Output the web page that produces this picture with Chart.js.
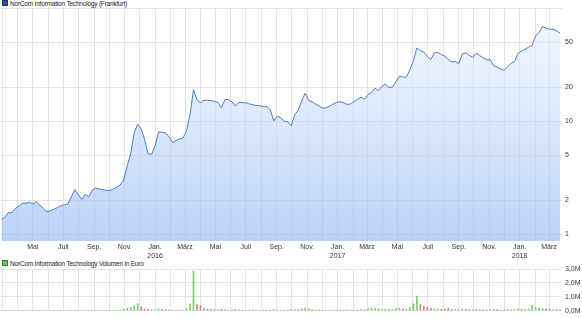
<!DOCTYPE html>
<html><head><meta charset="utf-8">
<script src="https://cdn.jsdelivr.net/npm/chart.js@4/dist/chart.umd.min.js"></script>
<style>
html,body{margin:0;padding:0;background:#fff;width:582px;height:318px;overflow:hidden;font-family:"Liberation Sans",Arial,sans-serif;}
#c1{position:absolute;left:0;top:0;}
#c2{position:absolute;left:0;top:258px;}
.lg{position:absolute;left:2px;font-size:6.5px;letter-spacing:-0.2px;color:#222;white-space:nowrap;line-height:8px;}
.lg i{display:inline-block;width:4px;height:4px;margin-right:2px;border:1px solid #333;vertical-align:0px;}
</style></head><body>
<div class="lg" style="top:0px"><i style="background:#2f5597;border-color:#1f3a6b"></i>NorCom Information Technology (Frankfurt)</div>
<div class="lg" style="top:260px"><i style="background:#6cc25e;border-color:#3a7a30"></i>NorCom Information Technology Volumen in Euro</div>
<canvas id="c1" width="582" height="258"></canvas>
<canvas id="c2" width="582" height="60"></canvas>
<script>
const dates = [
"2015-02-27","2015-03-06","2015-03-13","2015-03-20","2015-03-27","2015-04-03","2015-04-10","2015-04-17","2015-04-24","2015-05-01",
"2015-05-08","2015-05-15","2015-05-22","2015-05-29","2015-06-05","2015-06-12","2015-06-19","2015-06-26","2015-07-03","2015-07-10",
"2015-07-17","2015-07-24","2015-07-31","2015-08-07","2015-08-14","2015-08-21","2015-08-28","2015-09-04","2015-09-11","2015-09-18",
"2015-09-25","2015-10-02","2015-10-09","2015-10-16","2015-10-23","2015-10-30","2015-11-06","2015-11-13","2015-11-20","2015-11-27",
"2015-12-04","2015-12-11","2015-12-18","2015-12-25","2016-01-01","2016-01-08","2016-01-15","2016-01-22","2016-01-29","2016-02-05",
"2016-02-12","2016-02-19","2016-02-26","2016-03-04","2016-03-11","2016-03-18","2016-03-25","2016-04-01","2016-04-08","2016-04-15",
"2016-04-22","2016-04-29","2016-05-06","2016-05-13","2016-05-20","2016-05-27","2016-06-03","2016-06-10","2016-06-17","2016-06-24",
"2016-07-01","2016-07-08","2016-07-15","2016-07-22","2016-07-29","2016-08-05","2016-08-12","2016-08-19","2016-08-26","2016-09-02",
"2016-09-09","2016-09-16","2016-09-23","2016-09-30","2016-10-07","2016-10-14","2016-10-21","2016-10-28","2016-11-04","2016-11-11",
"2016-11-18","2016-11-25","2016-12-02","2016-12-09","2016-12-16","2016-12-23","2016-12-30","2017-01-06","2017-01-13","2017-01-20",
"2017-01-27","2017-02-03","2017-02-10","2017-02-17","2017-02-24","2017-03-03","2017-03-10","2017-03-17","2017-03-24","2017-03-31",
"2017-04-07","2017-04-14","2017-04-21","2017-04-28","2017-05-05","2017-05-12","2017-05-19","2017-05-26","2017-06-02","2017-06-09",
"2017-06-16","2017-06-23","2017-06-30","2017-07-07","2017-07-14","2017-07-21","2017-07-28","2017-08-04","2017-08-11","2017-08-18",
"2017-08-25","2017-09-01","2017-09-08","2017-09-15","2017-09-22","2017-09-29","2017-10-06","2017-10-13","2017-10-20","2017-10-27",
"2017-11-03","2017-11-10","2017-11-17","2017-11-24","2017-12-01","2017-12-08","2017-12-15","2017-12-22","2017-12-29","2018-01-05",
"2018-01-12","2018-01-19","2018-01-26","2018-02-02","2018-02-09","2018-02-16","2018-02-23","2018-03-02","2018-03-09","2018-03-16",
"2018-03-23"];
const prices = [
1.35,1.42,1.55,1.55,1.69,1.78,1.88,1.88,1.92,1.85,
1.93,1.80,1.69,1.58,1.61,1.66,1.72,1.78,1.82,1.85,
2.13,2.48,2.24,2.03,2.25,2.15,2.46,2.56,2.51,2.47,
2.44,2.43,2.51,2.59,2.72,3.01,4.01,5.13,7.88,9.37,
8.55,6.90,5.13,5.08,6.04,8.04,7.96,7.88,7.26,6.46,
6.76,6.97,7.07,8.25,11.37,18.95,15.45,14.54,15.30,15.23,
15.20,14.95,14.62,13.12,15.45,15.51,14.83,13.59,14.68,14.54,
14.54,14.18,13.95,13.75,13.67,13.48,13.39,12.60,10.06,11.08,
10.70,9.96,9.86,9.08,11.37,12.47,15.14,17.65,15.30,14.77,
14.18,13.59,12.99,13.12,13.56,14.15,14.68,14.83,14.54,14.04,
14.18,14.83,15.61,16.26,15.61,17.12,17.83,19.54,18.57,20.28,
21.34,19.74,20.03,22.33,24.98,24.47,24.53,28.53,34.28,44.26,
42.05,40.78,36.98,34.99,40.12,40.40,38.76,37.58,34.99,33.39,
33.60,32.12,39.15,40.12,38.13,36.45,39.96,37.97,36.15,34.99,
34.84,30.95,29.90,28.88,28.12,30.14,32.51,33.60,39.87,41.63,
43.19,45.08,46.57,56.55,60.74,68.50,65.92,64.85,64.85,62.89,
60.12];
const volumes = [
20000,15000,30000,25000,20000,30000,25000,20000,35000,25000,
20000,30000,25000,20000,15000,20000,25000,20000,30000,25000,
50000,60000,40000,30000,35000,25000,40000,30000,25000,20000,
20000,25000,30000,35000,60000,120000,200000,250000,380000,520000,
280000,150000,110000,70000,90000,160000,110000,80000,70000,60000,
50000,55000,60000,150000,500000,2850000,450000,380000,200000,120000,
100000,90000,70000,110000,80000,60000,60000,90000,70000,60000,
50000,60000,50000,45000,40000,45000,50000,60000,90000,70000,
60000,60000,50000,90000,80000,90000,150000,200000,120000,80000,
60000,50000,60000,50000,45000,50000,60000,80000,60000,50000,
50000,60000,80000,90000,70000,150000,200000,180000,120000,90000,
100000,80000,90000,150000,200000,150000,120000,250000,500000,1050000,
450000,300000,250000,180000,150000,120000,100000,120000,200000,100000,
90000,80000,150000,100000,80000,70000,90000,80000,70000,60000,
70000,90000,80000,60000,70000,80000,70000,90000,150000,120000,
100000,150000,400000,250000,200000,150000,120000,100000,90000,80000,
70000];
const priceTicks = [1, 2, 5, 10, 20, 50, 100];
const volumeTicks = [0, 1000000, 2000000, 3000000];
const monthNames = ["Jan.","Feb.","März","Apr.","Mai","Juni","Juli","Aug.","Sep.","Okt.","Nov.","Dez."];

const X_MIN = Date.UTC(2015, 1, 26);
const X_MAX = Date.UTC(2018, 2, 27);
const monthTicks = [];
for (let y = 2015; y <= 2018; y++) for (let m = 0; m < 12; m++) {
  const t = Date.UTC(y, m, 1);
  if (t >= X_MIN && t <= X_MAX) monthTicks.push(t);
}
const FONT = {family: '"Liberation Sans", Arial, sans-serif', size: 7};
const GRID = '#e3e3e3';
const TXT = '#333';

function monthLabel(v) {
  const d = new Date(v);
  const m = d.getUTCMonth();
  if (m % 2 === 1) return '';
  if (v === monthTicks[0]) return '';
  if (m === 0) return [monthNames[m], String(d.getUTCFullYear())];
  return monthNames[m];
}

const pricePts = dates.map((d, i) => ({x: Date.parse(d), y: prices[i]}));
new Chart(document.getElementById('c1'), {
  type: 'line',
  data: {datasets: [{
    data: pricePts,
    borderColor: '#4f7cbd',
    borderWidth: 1,
    pointRadius: 0,
    tension: 0,
    fill: 'start',
    backgroundColor: (ctx) => {
      const ch = ctx.chart, a = ch.chartArea;
      if (!a) return 'rgba(170,200,245,0.5)';
      const g = ch.ctx.createLinearGradient(0, a.top, 0, a.bottom);
      g.addColorStop(0, 'rgba(235,242,253,0.55)');
      g.addColorStop(1, 'rgba(150,186,244,0.65)');
      return g;
    }
  }]},
  options: {
    responsive: false, animation: false, events: [],
    layout: {padding: {top: 8, left: 1, right: 0, bottom: 0}},
    plugins: {legend: {display: false}, tooltip: {enabled: false}},
    scales: {
      x: {
        type: 'linear', min: X_MIN, max: X_MAX,
        afterBuildTicks: s => { s.ticks = monthTicks.map(v => ({value: v})); },
        afterFit: s => { s.height = 17; },
        ticks: {autoSkip: false, maxRotation: 0, minRotation: 0, padding: 2, font: FONT, color: TXT, callback: v => monthLabel(v)},
        grid: {color: GRID, drawTicks: false},
        border: {display: false}
      },
      y: {
        type: 'logarithmic', position: 'right', min: 0.87, max: 100,
        afterBuildTicks: s => { s.ticks = priceTicks.map(v => ({value: v})); },
        afterFit: s => { s.width = 20; },
        ticks: {padding: 3, font: FONT, color: TXT, callback: v => (v === 100 ? '' : String(v))},
        grid: {color: GRID, drawTicks: false},
        border: {display: false}
      }
    }
  }
});

const volPts = dates.map((d, i) => ({x: Date.parse(d), y: volumes[i]}));
const volColors = prices.map((p, i) => (i === 0 || p >= prices[i - 1]) ? '#7bcf6c' : '#d9827a');
new Chart(document.getElementById('c2'), {
  type: 'bar',
  data: {datasets: [{
    data: volPts,
    backgroundColor: volColors,
    barThickness: 1,
    borderWidth: 0
  }]},
  options: {
    responsive: false, animation: false, events: [],
    layout: {padding: {top: 11, left: 1, right: 0, bottom: 0}},
    plugins: {legend: {display: false}, tooltip: {enabled: false}},
    scales: {
      x: {
        type: 'linear', min: X_MIN, max: X_MAX, offset: false,
        afterBuildTicks: s => { s.ticks = monthTicks.map(v => ({value: v})); },
        afterFit: s => { s.height = 4; },
        ticks: {display: false},
        grid: {color: GRID, drawTicks: false, offset: false},
        border: {display: false}
      },
      y: {
        position: 'right', min: 0, max: 3000000,
        afterBuildTicks: s => { s.ticks = volumeTicks.map(v => ({value: v})); },
        afterFit: s => { s.width = 20; },
        ticks: {padding: 3, font: FONT, color: TXT, callback: v => (v / 1000000).toFixed(1).replace('.', ',') + 'M'},
        grid: {color: GRID, drawTicks: false},
        border: {display: false}
      }
    }
  }
});
</script>
</body></html>
